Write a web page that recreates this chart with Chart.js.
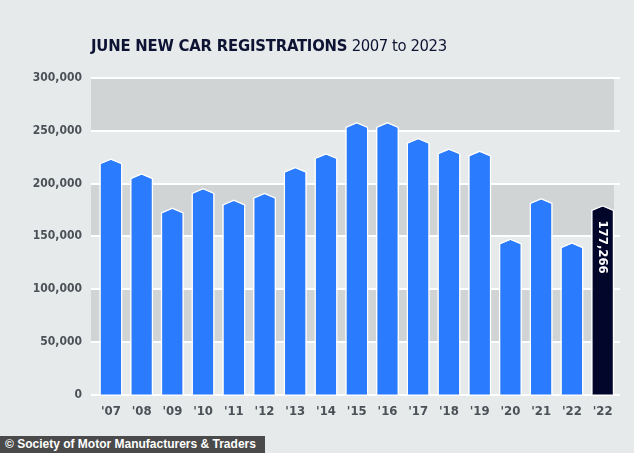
<!DOCTYPE html>
<html><head><meta charset="utf-8">
<script src="https://cdn.jsdelivr.net/npm/chart.js@4/dist/chart.umd.min.js"></script>
<style>
html,body{margin:0;padding:0;background:#e7eaeb;}
#wrap{position:relative;width:634px;height:453px;overflow:hidden;background:#e7eaeb;}
#c{position:absolute;left:0;top:0;}
#title{position:absolute;left:91px;top:37px;font-family:"DejaVu Sans Condensed","DejaVu Sans",sans-serif;font-size:16.5px;line-height:17px;color:#0d1333;white-space:nowrap;letter-spacing:-0.2px;}
#title b{font-weight:bold;}
#title span{font-weight:normal;letter-spacing:-0.4px;}
#foot{position:absolute;left:0;top:436px;width:265px;height:17px;background:#4a4a4a;color:#fff;font-family:"Liberation Sans",Arial,sans-serif;font-weight:bold;font-size:12px;line-height:17px;padding-left:5px;box-sizing:border-box;white-space:nowrap;}
</style></head>
<body><div id="wrap">
<canvas id="c" width="634" height="453"></canvas>
<div id="title"><b>JUNE NEW CAR REGISTRATIONS</b><span> 2007 to 2023</span></div>
<div id="foot">© Society of Motor Manufacturers &amp; Traders</div>
</div>
<script>
const categories = ["'07","'08","'09","'10","'11","'12","'13","'14","'15","'16","'17","'18","'19","'20","'21","'22","'22"];
const registrations = [221500,207500,175000,193500,182500,189000,213500,226500,256000,256000,241000,231000,229000,145500,184000,142000,177266];
const highlightLabel = "177,266";
const yTicks = [0,50000,100000,150000,200000,250000,300000];

const BLUE = '#2a7bfd', DARK = '#03062b';
const barColors = registrations.map((v,i)=> i===registrations.length-1 ? DARK : BLUE);

const bgPlugin = {
  id:'bands',
  beforeDraw(chart){
    const {ctx, chartArea:a, scales:{y}} = chart;
    ctx.save();
    ctx.fillStyle='#e7eaeb';
    ctx.fillRect(0,0,chart.width,chart.height);
    const L = a.left-4.5, R = a.right-4;
    for(let i=0;i<yTicks.length-1;i++){
      const y0=y.getPixelForValue(yTicks[i]), y1=y.getPixelForValue(yTicks[i+1]);
      ctx.fillStyle = (i%2===1) ? '#d0d4d5' : '#e7eaeb';
      ctx.fillRect(L, y1, R-L, y0-y1);
    }
    ctx.strokeStyle='#ffffff'; ctx.lineWidth=2;
    yTicks.forEach(t=>{
      const py=Math.round(y.getPixelForValue(t));
      ctx.beginPath(); ctx.moveTo(a.left-4.5,py); ctx.lineTo(a.right+2,py); ctx.stroke();
    });
    ctx.restore();
  }
};

const capPlugin = {
  id:'caps',
  afterDatasetsDraw(chart){
    const {ctx} = chart;
    const meta = chart.getDatasetMeta(0);
    ctx.save();
    meta.data.forEach((bar,i)=>{
      const w = bar.width, x=bar.x, top=bar.y-1, base=bar.base;
      const l=x-w/2, r=x+w/2, sh=top+4;
      ctx.beginPath();
      ctx.moveTo(l,base); ctx.lineTo(l,sh); ctx.lineTo(x,top); ctx.lineTo(r,sh); ctx.lineTo(r,base);
      ctx.closePath();
      ctx.fillStyle = barColors[i];
      ctx.fill();
      ctx.strokeStyle='#ffffff'; ctx.lineWidth=1.2; ctx.lineJoin='miter';
      ctx.beginPath();
      ctx.moveTo(l-0.6,base); ctx.lineTo(l-0.6,sh); ctx.lineTo(x,top-0.7); ctx.lineTo(r+0.6,sh); ctx.lineTo(r+0.6,base);
      ctx.stroke();
    });
    const last = meta.data[meta.data.length-1];
    ctx.translate(last.x, last.y+13);
    ctx.rotate(Math.PI/2);
    ctx.fillStyle='#ffffff';
    ctx.font='bold 13px "DejaVu Sans Condensed","DejaVu Sans",sans-serif';
    ctx.textAlign='left'; ctx.textBaseline='middle';
    ctx.fillText(highlightLabel,0,0);
    ctx.restore();
  }
};

new Chart(document.getElementById('c'),{
  type:'bar',
  data:{labels:categories,datasets:[{data:registrations,backgroundColor:'rgba(0,0,0,0)',borderWidth:0,barPercentage:0.667,categoryPercentage:1}]},
  options:{
    responsive:false,animation:false,
    layout:{padding:{top:78,right:16,left:0,bottom:0}},
    plugins:{legend:{display:false},tooltip:{enabled:false},title:{display:false}},
    scales:{
      x:{
        grid:{display:false,drawTicks:false},border:{display:false},
        ticks:{color:'#4b5157',font:{family:'"DejaVu Sans Condensed","DejaVu Sans",sans-serif',size:13,weight:'bold'},padding:9,maxRotation:0,autoSkip:false},
        afterFit(s){s.height=58.5;}
      },
      y:{
        min:0,max:300000,
        grid:{display:false,drawTicks:false},border:{display:false},
        afterBuildTicks(s){s.ticks=yTicks.map(v=>({value:v}));},
        ticks:{color:'#4b5157',font:{family:'"DejaVu Sans Condensed","DejaVu Sans",sans-serif',size:12,weight:'bold'},padding:13.5,
          callback:v=>v.toLocaleString('en-US')},
        afterFit(s){s.width=95.5;}
      }
    }
  },
  plugins:[bgPlugin,capPlugin]
});
</script>
</body></html>
